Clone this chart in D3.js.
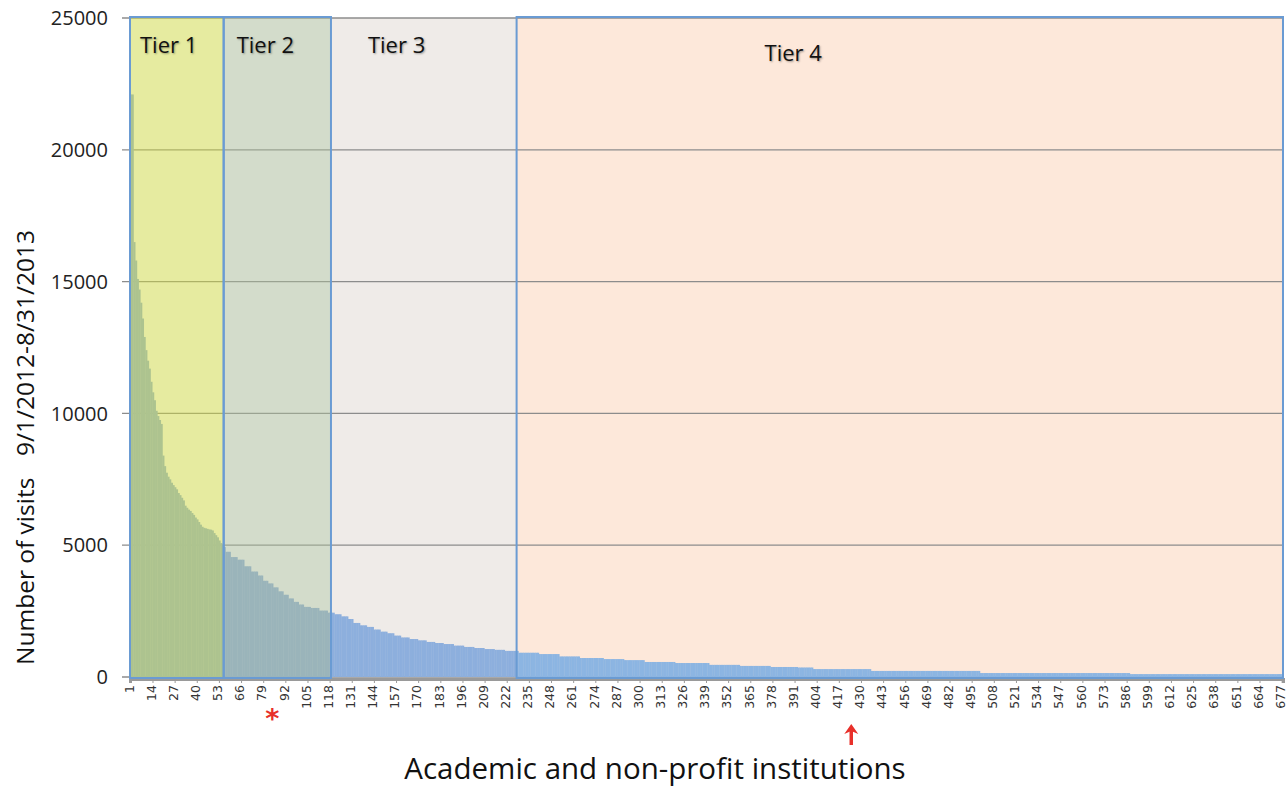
<!DOCTYPE html>
<html>
<head>
<meta charset="utf-8">
<script src="https://cdn.jsdelivr.net/npm/d3@7"></script>
<style>
  body { margin: 0; background: #fff; }
  svg { display: block; }
</style>
</head>
<body>
<div id="chart"></div>
<script>
// visits per institution, ranked; head read one by one, tail as [count, value] runs
const headVisits = [22100, 22100, 16500, 15800, 15100, 14700, 14200, 13600, 12900, 12400,
  12000, 11700, 11200, 10800, 10500, 10100, 9900, 9750, 9600, 8400,
  8000, 7750, 7600, 7500, 7370, 7280, 7200, 7120, 6980, 6900,
  6800, 6700, 6500, 6420, 6350, 6300, 6220, 6150, 6050, 5980,
  5880, 5780, 5700, 5660, 5640, 5620, 5600, 5590, 5560, 5460,
  5380, 5300, 5180, 5080, 5000, 4930]
const tailRuns = [[3, 4750], [4, 4550], [4, 4450], [4, 4200], [4, 4000], [3, 3850], [3, 3650],
  [3, 3550], [3, 3400], [3, 3250], [3, 3120], [3, 2980], [3, 2850], [3, 2750], [4, 2660],
  [5, 2620], [5, 2520], [4, 2440], [4, 2380], [4, 2300], [3, 2200], [4, 2050], [4, 1960],
  [4, 1900], [4, 1800], [4, 1720], [4, 1660], [4, 1570], [5, 1500], [5, 1440], [5, 1390],
  [5, 1330], [5, 1290], [6, 1250], [6, 1190], [6, 1140], [6, 1100], [6, 1060], [6, 1030],
  [8, 990], [12, 920], [12, 870], [12, 780], [14, 720], [12, 680], [12, 640], [18, 570],
  [20, 530], [18, 460], [18, 420], [16, 380], [9, 360], [34, 300], [64, 230], [88, 150], [90, 110]]

const tierNames = ["Tier 1", "Tier 2", "Tier 3", "Tier 4"]
const tierStart = [1, 56, 119, 228]
const tierEnd = [55, 118, 227, 677]

const yTicks = [0, 5000, 10000, 15000, 20000, 25000]
const xTicks = d3.range(1, 678, 13)
const markedAsterisk = 84
const markedArrow = 424

const visits = headVisits.slice()
tailRuns.forEach(r => { for (let k = 0; k < r[0]; k++) visits.push(r[1]) })
const data = visits.map((v, i) => ({ rank: i + 1, v: v }))

const width = 1287, height = 787

const svg = d3.select("#chart").append("svg")
  .attr("width", width)
  .attr("height", height)

const x = d3.scaleBand()
  .domain(data.map(d => d.rank))
  .range([130, 1283])
  .padding(0)

const y = d3.scaleLinear()
  .domain([0, 25000])
  .range([677, 18])

const bw = x.bandwidth()
const tiers = tierNames.map((n, i) => ({ name: n, start: tierStart[i], end: tierEnd[i] }))
const tx0 = t => x(t.start)
const tx1 = t => x(t.end) + bw

// tier 3/4 backgrounds sit behind the bars
const bgFill = { "Tier 3": "#efebe8", "Tier 4": "#fde8da" }
svg.selectAll(".tier-bg")
  .data(tiers.filter(t => bgFill[t.name]))
  .enter().append("rect")
  .attr("x", tx0)
  .attr("y", y(25000))
  .attr("width", t => tx1(t) - tx0(t))
  .attr("height", y(0) - y(25000))
  .attr("fill", t => bgFill[t.name])

// gridlines + y labels
svg.selectAll(".grid")
  .data(yTicks)
  .enter().append("line")
  .attr("x1", 122).attr("x2", 1283)
  .attr("y1", d => y(d)).attr("y2", d => y(d))
  .attr("stroke", "#8c8c8c")
  .attr("stroke-width", 1.3)

svg.selectAll(".ylab")
  .data(yTicks)
  .enter().append("text")
  .attr("x", 108)
  .attr("y", d => y(d))
  .attr("dy", "0.36em")
  .attr("text-anchor", "end")
  .attr("font-family", "Open Sans, sans-serif")
  .attr("font-size", 20)
  .attr("fill", "#222")
  .text(d => d)

// bars
svg.selectAll(".bar")
  .data(data)
  .enter().append("rect")
  .attr("x", d => x(d.rank))
  .attr("y", d => y(d.v))
  .attr("width", bw + 0.4)
  .attr("height", d => y(0) - y(d.v))
  .attr("fill", d => d.rank >= 228 ? "#8cb5e2" : "#8dafdd")

// tier 1/2 translucent overlays
const overlayFill = { "Tier 1": "#cdd741", "Tier 2": "#a7b997" }
svg.selectAll(".tier-ov")
  .data(tiers.filter(t => overlayFill[t.name]))
  .enter().append("rect")
  .attr("x", tx0)
  .attr("y", y(25000))
  .attr("width", t => tx1(t) - tx0(t))
  .attr("height", y(0) - y(25000))
  .attr("fill", t => overlayFill[t.name])
  .attr("fill-opacity", 0.5)

// x axis
const xAxis = svg.append("g")
  .attr("transform", `translate(0,${y(0) + 2})`)
  .call(d3.axisBottom(x).tickValues(xTicks).tickSize(4).tickPadding(6))
xAxis.select(".domain").attr("stroke", "#9a9a9a").attr("stroke-width", 3)
xAxis.selectAll(".tick line").attr("stroke", "#9a9a9a")
xAxis.selectAll(".tick text")
  .attr("font-family", "DejaVu Sans, sans-serif")
  .attr("font-size", 12.5)
  .attr("fill", "#333")
  .attr("text-anchor", "end")
  .attr("transform", "rotate(-90)")
  .attr("x", -6)
  .attr("y", 0)
  .attr("dy", "0.22em")

// tier borders (tier 3 has none)
svg.selectAll(".tier-box")
  .data(tiers.filter(t => t.name !== "Tier 3"))
  .enter().append("rect")
  .attr("x", tx0)
  .attr("y", y(25000) - 1)
  .attr("width", t => tx1(t) - tx0(t))
  .attr("height", y(0) - y(25000) + 2)
  .attr("fill", "none")
  .attr("stroke", "#6a9bd3")
  .attr("stroke-width", 2)

// tier labels
const labelDx = [10, 13, 37, 248]
const labelY = [53, 53, 53, 61]
svg.selectAll(".tier-label")
  .data(tiers)
  .enter().append("text")
  .attr("x", (t, i) => tx0(t) + labelDx[i])
  .attr("y", (t, i) => labelY[i])
  .attr("font-family", "Open Sans, sans-serif")
  .attr("font-size", 22)
  .attr("fill", "#111")
  .style("text-shadow", "1px 1px 2px rgba(0,0,0,0.35)")
  .text(t => t.name)

// markers
svg.append("text")
  .attr("x", x(markedAsterisk) + bw / 2)
  .attr("y", 728)
  .attr("text-anchor", "middle")
  .attr("font-family", "DejaVu Sans, sans-serif")
  .attr("font-size", 27)
  .attr("font-weight", "bold")
  .attr("fill", "#e8302a")
  .text("*")

const ax = x(markedArrow) + bw / 2
svg.append("path")
  .attr("d", `M${ax},745 L${ax},729`)
  .attr("stroke", "#e8302a")
  .attr("stroke-width", 3.5)
svg.append("path")
  .attr("d", `M${ax - 7},734 L${ax},724 L${ax + 7},734 L${ax},731 Z`)
  .attr("fill", "#e8302a")

// axis titles
svg.append("text")
  .attr("x", 655)
  .attr("y", 779)
  .attr("text-anchor", "middle")
  .attr("font-family", "Open Sans, sans-serif")
  .attr("font-size", 29.5)
  .attr("fill", "#111")
  .text("Academic and non-profit institutions")

svg.append("text")
  .attr("transform", "translate(34,665) rotate(-90)")
  .attr("font-family", "Open Sans, sans-serif")
  .attr("font-size", 24.5)
  .attr("fill", "#111")
  .text("Number of visits")

svg.append("text")
  .attr("transform", "translate(34,456) rotate(-90)")
  .attr("font-family", "Open Sans, sans-serif")
  .attr("font-size", 24.5)
  .attr("fill", "#111")
  .text("9/1/2012-8/31/2013")
</script>
</body>
</html>
